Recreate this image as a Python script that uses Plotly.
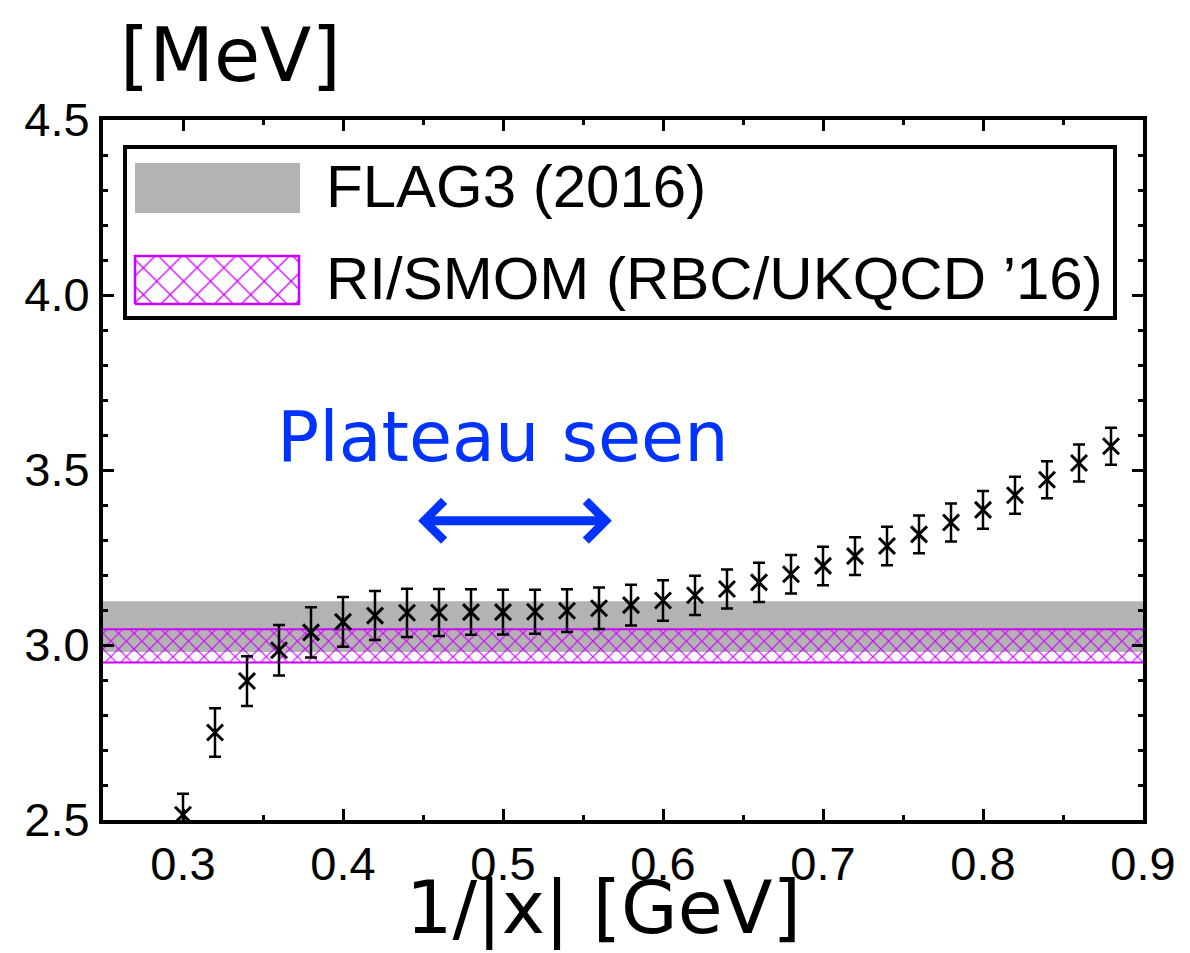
import plotly.graph_objects as go

# ---------------- data ----------------
x_vals = [0.30, 0.32, 0.34, 0.36, 0.38, 0.40, 0.42, 0.44, 0.46, 0.48,
          0.50, 0.52, 0.54, 0.56, 0.58, 0.60, 0.62, 0.64, 0.66, 0.68,
          0.70, 0.72, 0.74, 0.76, 0.78, 0.80, 0.82, 0.84, 0.86, 0.88]
y_vals = [2.515, 2.750, 2.897, 2.985, 3.036, 3.066, 3.084, 3.092, 3.093, 3.094,
          3.094, 3.095, 3.098, 3.105, 3.114, 3.127, 3.142, 3.160, 3.179, 3.202,
          3.226, 3.254, 3.283, 3.316, 3.350, 3.386, 3.428, 3.472, 3.520, 3.568]
y_errs = [0.060, 0.069, 0.071, 0.072, 0.072, 0.071, 0.070, 0.069, 0.067, 0.065,
          0.064, 0.063, 0.061, 0.059, 0.058, 0.058, 0.056, 0.056, 0.056, 0.055,
          0.055, 0.054, 0.055, 0.054, 0.054, 0.054, 0.053, 0.053, 0.053, 0.053]

flag_band = [2.98, 3.125]      # FLAG3 (2016)
smom_band = [2.95, 3.045]      # RI/SMOM (RBC/UKQCD '16)
x_range = [0.25, 0.9]
y_range = [2.5, 4.5]

legend_labels = ["FLAG3 (2016)", "RI/SMOM (RBC/UKQCD \u201916)"]
plateau_label = "Plateau seen"
plateau_arrow = [0.446, 0.568, 3.355]   # x_start, x_end, y

GRAY = "#b3b3b3"
MAG = "#cc00ff"
BLUE = "#0033ff"

# ---------------- layout geometry (pixels in the page) ----------------
OFF = 8                      # default page margin of the html body
W, H = 1190 - OFF, 953 - OFF
L, R, T, B = 103 - OFF, 47, 120 - OFF, 141 - OFF
PW, PH = W - L - R, H - T - B


def px(x):
    return (x - OFF - L) / PW


def py(y):
    return (H - B - (y - OFF)) / PH


fig = go.Figure()

# FLAG band (gray)
fig.add_trace(go.Scatter(
    x=[x_range[0], x_range[1], x_range[1], x_range[0], x_range[0]],
    y=[flag_band[0], flag_band[0], flag_band[1], flag_band[1], flag_band[0]],
    fill="toself", fillcolor=GRAY, mode="none", showlegend=False,
    hoverinfo="skip"))

# RI/SMOM band (hatched)
fig.add_trace(go.Scatter(
    x=[x_range[0], x_range[1], x_range[1], x_range[0], x_range[0]],
    y=[smom_band[0], smom_band[0], smom_band[1], smom_band[1], smom_band[0]],
    fill="toself", fillcolor="rgba(0,0,0,0)", mode="none",
    fillpattern=dict(shape="x", fgcolor=MAG, bgcolor="rgba(0,0,0,0)",
                     size=11, solidity=0.2, fillmode="replace"),
    showlegend=False, hoverinfo="skip"))
for yb in smom_band:
    fig.add_trace(go.Scatter(x=x_range, y=[yb, yb], mode="lines",
                             line=dict(color=MAG, width=2),
                             showlegend=False, hoverinfo="skip"))

# data points
fig.add_trace(go.Scatter(
    x=x_vals, y=y_vals, mode="markers",
    marker=dict(symbol="x-thin", size=16, line=dict(color="black", width=3),
                color="black"),
    error_y=dict(type="data", array=y_errs, visible=True, color="black",
                 thickness=2.5, width=6),
    showlegend=False))

# ---------------- legend (manual) ----------------
fig.add_trace(go.Scatter(
    x=[px(135), px(299), px(299), px(135), px(135)],
    y=[py(304), py(304), py(256), py(256), py(304)],
    xaxis="x2", yaxis="y2",
    fill="toself", fillcolor="rgba(0,0,0,0)", mode="lines",
    line=dict(color=MAG, width=2.5),
    fillpattern=dict(shape="x", fgcolor=MAG, bgcolor="rgba(0,0,0,0)",
                     size=19, solidity=0.13, fillmode="replace"),
    showlegend=False, hoverinfo="skip"))

shapes = [
    dict(type="rect", xref="paper", yref="paper",
         x0=px(125), x1=px(1115), y0=py(318), y1=py(147),
         line=dict(color="black", width=4), fillcolor="white", layer="below"),
    dict(type="rect", xref="paper", yref="paper",
         x0=px(135), x1=px(300), y0=py(213), y1=py(163),
         line=dict(width=0), fillcolor=GRAY, layer="above"),
]

legend_font = dict(family="Liberation Sans, Arial, sans-serif", size=60, color="black")
title_font = dict(family="DejaVu Sans, sans-serif", size=75, color="black")
xtitle_font = dict(family="DejaVu Sans, sans-serif", size=73, color="black")

annotations = [
    dict(text=legend_labels[0], xref="paper", yref="paper",
         x=px(324), y=py(186), xanchor="left", yanchor="middle",
         showarrow=False, font=legend_font),
    dict(text=legend_labels[1], xref="paper", yref="paper",
         x=px(324), y=py(278), xanchor="left", yanchor="middle",
         showarrow=False, font=legend_font),
    # plateau text
    dict(text=plateau_label, xref="x", yref="y", x=0.5, y=3.595,
         xanchor="center", yanchor="middle", showarrow=False,
         font=dict(family="DejaVu Sans, sans-serif", size=70, color=BLUE)),
    # double arrow
    dict(text="", xref="x", yref="y", axref="x", ayref="y",
         x=plateau_arrow[1], y=plateau_arrow[2],
         ax=plateau_arrow[0], ay=plateau_arrow[2],
         showarrow=True, arrowside="end+start",
         arrowhead=4, startarrowhead=4, arrowsize=0.85, startarrowsize=0.85,
         arrowwidth=9, arrowcolor=BLUE, standoff=0, startstandoff=0),
    # axis titles
    dict(text="[MeV]", xref="paper", yref="paper", x=px(118), y=py(55),
         xanchor="left", yanchor="middle", showarrow=False, font=title_font),
    dict(text="1/|x| [GeV]", xref="paper", yref="paper", x=px(603), y=py(951),
         xanchor="center", yanchor="bottom", showarrow=False, font=xtitle_font,
         borderpad=0),
]

tickfont = dict(family="Liberation Sans, Arial, sans-serif", size=47, color="black")

fig.update_layout(
    width=W, height=H,
    margin=dict(l=L, r=R, t=T, b=B),
    paper_bgcolor="white", plot_bgcolor="white",
    shapes=shapes, annotations=annotations,
    xaxis=dict(range=x_range, tick0=0.3, dtick=0.1, tickformat=".1f",
               showgrid=False, zeroline=False,
               showline=True, linecolor="black", linewidth=4, mirror="ticks",
               ticks="inside", ticklen=11, tickwidth=3, tickcolor="black",
               minor=dict(dtick=0.05, ticks="inside", ticklen=5, tickwidth=3,
                          tickcolor="black", showgrid=False),
               tickfont=tickfont),
    yaxis=dict(range=y_range, tick0=2.5, dtick=0.5, tickformat=".1f",
               showgrid=False, zeroline=False,
               showline=True, linecolor="black", linewidth=4, mirror="ticks",
               ticks="inside", ticklen=11, tickwidth=3, tickcolor="black",
               minor=dict(dtick=0.1, ticks="inside", ticklen=5, tickwidth=3,
                          tickcolor="black", showgrid=False),
               tickfont=tickfont),
    xaxis2=dict(range=[0, 1], domain=[0, 1], overlaying="x", visible=False,
                anchor="y2"),
    yaxis2=dict(range=[0, 1], domain=[0, 1], overlaying="y", visible=False,
                anchor="x2"),
)

fig.write_html("out.html")
